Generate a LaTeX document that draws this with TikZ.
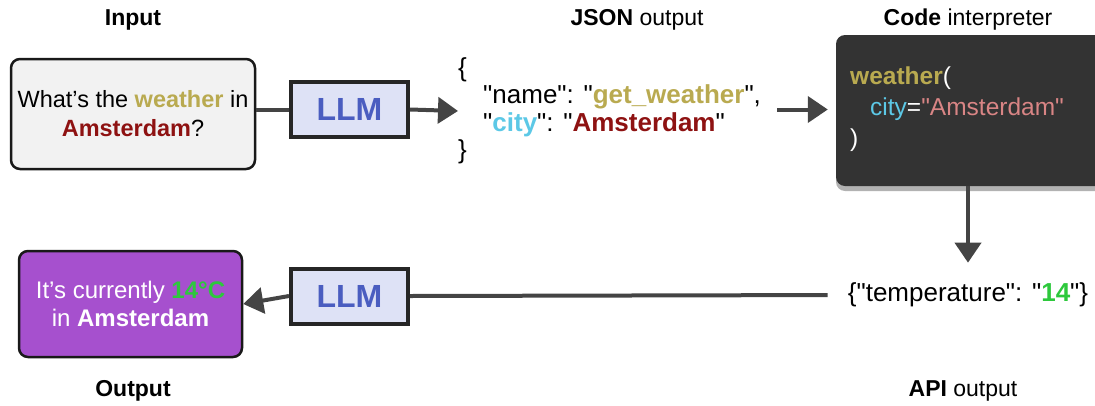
\documentclass[tikz,border=0pt]{standalone}
\usepackage{fontspec}
\setmainfont{Liberation Sans}[Ligatures=TeXOff]
\usetikzlibrary{arrows.meta,shadows}
\definecolor{wcol}{HTML}{B9AA50}
\definecolor{acol}{HTML}{8E1212}
\definecolor{ccol}{HTML}{5CC8E6}
\definecolor{gcol}{HTML}{2DC83C}
\definecolor{pcol}{HTML}{A650CE}
\definecolor{lcol}{HTML}{DEE2F6}
\definecolor{lbl}{HTML}{4A5DC0}
\definecolor{codebg}{HTML}{333333}
\definecolor{pinkc}{HTML}{D98585}
\definecolor{arr}{HTML}{444444}
\definecolor{inbg}{HTML}{F2F2F2}
\newcommand{\dq}{\symbol{34}}
\begin{document}
\begin{tikzpicture}[x=1pt,y=-1pt,
  title/.style={font=\fontsize{23}{27}\selectfont, inner sep=0pt},
  llmbox/.style={draw=black!85, line width=4pt, fill=lcol, minimum width=117pt, minimum height=55pt,
     font=\fontsize{32}{36}\selectfont\bfseries, text=lbl, inner sep=0pt},
  conn/.style={draw=arr, line width=4pt},
  arrow/.style={conn, -{Triangle[length=20pt,width=26pt]}},
  txt/.style={inner sep=0pt, align=center}
]
\useasboundingbox (0,0) rectangle (1095,405);

% titles
\node[title] (tin) at (133,20) {\textbf{Input}};
\node[title] (tjson) at (637,20) {\textbf{JSON} output};
\node[title] (tcode) at (968,20) {\textbf{Code} interpreter};
\node[title] (tout) at (133,391) {\textbf{Output}};
\node[title] (tapi) at (963,391) {\textbf{API} output};

% input box
\node[draw=black!90, line width=2.5pt, rounded corners=9pt, fill=inbg,
      minimum width=244pt, minimum height=110pt, txt, font=\fontsize{23.5}{29}\selectfont] (inp) at (133,114)
  {What’s the \textcolor{wcol}{\bfseries weather} in\\ \textcolor{acol}{\bfseries Amsterdam}?};

% LLM boxes
\node[llmbox] (llm1) at (349.5,109.5) {LLM};
\node[llmbox] (llm2) at (349.5,296) {LLM};

% JSON output
\node[anchor=west, inner sep=0pt, align=left, font=\fontsize{26}{27.5}\selectfont] (json) at (458,111)
  {\{\\
   \hspace*{25pt}\dq name\dq: \dq\textcolor{wcol}{\bfseries get\_weather}\dq,\\
   \hspace*{25pt}\dq\textcolor{ccol}{\bfseries city}\dq: \dq\textcolor{acol}{\bfseries Amsterdam}\dq\\
   \}};

% code box
\node[fill=codebg, rounded corners=9pt, minimum width=274pt, minimum height=151pt,
      drop shadow={shadow xshift=0pt, shadow yshift=-5pt, opacity=0.3, fill=black}] (code) at (973,110.5) {};
\node[anchor=west, inner sep=0pt, align=left, text=white, font=\fontsize{24.5}{31}\selectfont] (codetxt) at (850,109)
  {\textcolor{wcol}{\bfseries weather}(\\
   \hspace*{20pt}\textcolor{ccol}{city}=\textcolor{pinkc}{\dq Amsterdam\dq}\\
   )};

% API output
\node[inner sep=0pt, font=\fontsize{26}{28}\selectfont] (api) at (968,295)
  {\{\dq temperature\dq: \dq\textcolor{gcol}{\bfseries 14}\dq\}};

% output box
\node[draw=black!90, line width=2.5pt, rounded corners=9pt, fill=pcol, text=white,
      minimum width=223pt, minimum height=106pt, txt, font=\fontsize{24}{28}\selectfont] (out) at (130.5,304)
  {It’s currently \textcolor{gcol}{\bfseries 14°C}\\ in \textbf{Amsterdam}};

% connectors
\draw[conn] (inp.east |- llm1.west) -- (llm1.west);
\draw[arrow] (llm1.east) -- (json.west);
\draw[arrow, shorten <=16pt, shorten >=8pt] (json.east |- llm1.east) -- (code.west |- llm1.east);
\draw[arrow, shorten >=20pt] (code.south -| api.north) -- (api.north);
\draw[conn, shorten <=20pt] (api.west) -- (llm2.east);
\draw[arrow] (llm2.west) -- (out.east);
\end{tikzpicture}
\end{document}
